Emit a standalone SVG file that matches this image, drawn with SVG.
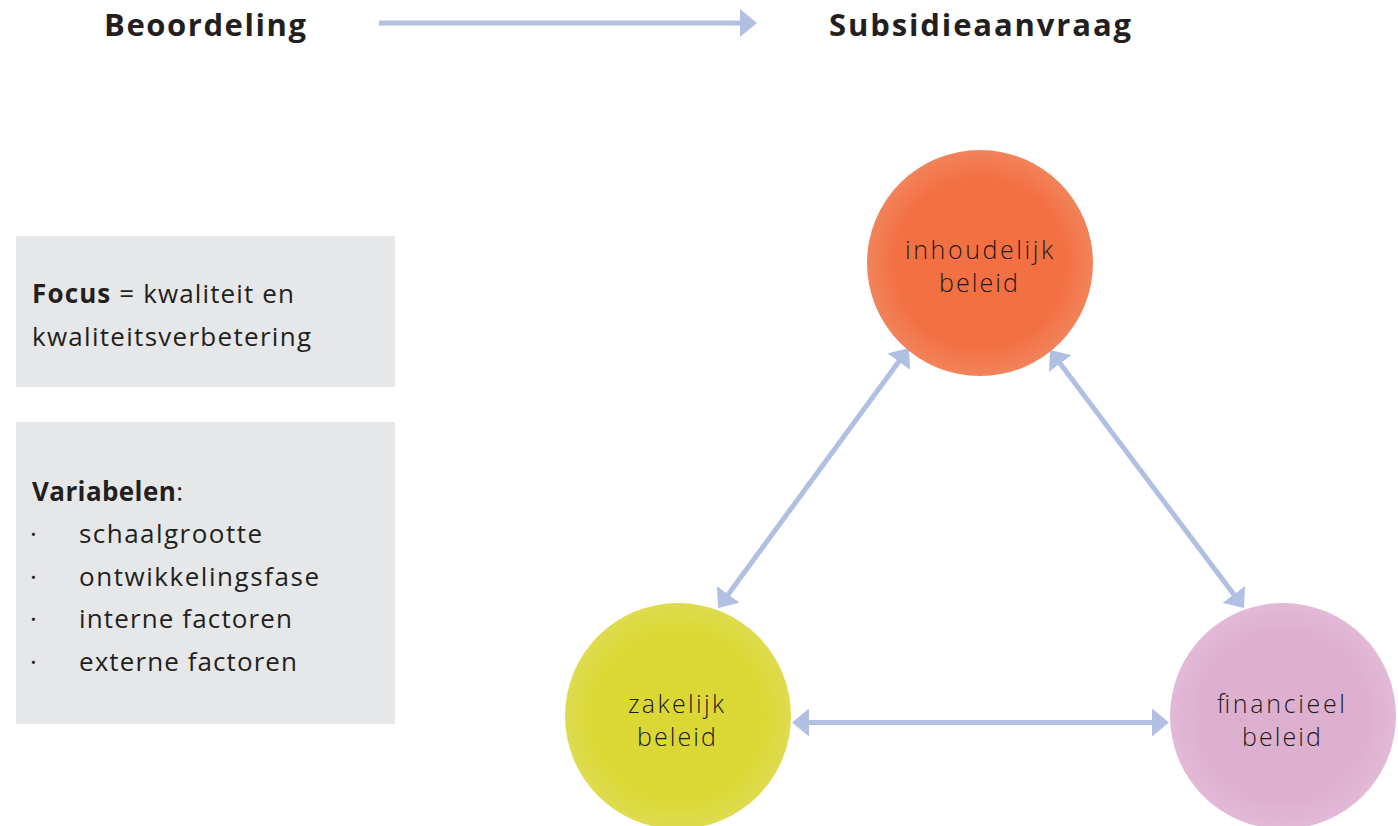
<svg xmlns="http://www.w3.org/2000/svg" width="1398" height="826" viewBox="0 0 1398 826">
<style>
.hdr{font-family:"Open Sans","Liberation Sans",sans-serif;font-weight:700;font-size:31px;fill:#231F20}
.body{font-family:"Open Sans","Liberation Sans",sans-serif;font-size:26px;fill:#231F20}
.b{font-weight:700}
.ctext{font-family:"Open Sans","Liberation Sans",sans-serif;font-weight:300;font-size:25px;fill:#1E1A1B;text-anchor:middle}
.box{fill:#E6E7E9}
.conn{stroke:#B0BFE2;stroke-width:5;fill:none}
</style>
<defs>
<marker id="ah" viewBox="0 0 17 28" refX="2" refY="14" markerWidth="17" markerHeight="28" markerUnits="userSpaceOnUse" orient="auto-start-reverse">
<path d="M0,0 L17,14 L0,28 z" fill="#B0BFE2"/>
</marker>
<radialGradient id="gO" cx="50%" cy="50%" r="50%">
<stop offset="0%" stop-color="#F37043"/><stop offset="75%" stop-color="#F37043"/><stop offset="100%" stop-color="#F2835B"/>
</radialGradient>
<radialGradient id="gY" cx="50%" cy="50%" r="50%">
<stop offset="0%" stop-color="#DBD836"/><stop offset="75%" stop-color="#DBD836"/><stop offset="100%" stop-color="#DEDB4F"/>
</radialGradient>
<radialGradient id="gP" cx="50%" cy="50%" r="50%">
<stop offset="0%" stop-color="#DEB0D0"/><stop offset="75%" stop-color="#DEB0D0"/><stop offset="100%" stop-color="#E2B9D6"/>
</radialGradient>
</defs>
<rect width="1398" height="826" fill="#FFFFFF"/>

<g id="header">
<text class="hdr" x="104" y="36" textLength="202" lengthAdjust="spacing">Beoordeling</text>
<text class="hdr" x="829" y="36" textLength="302" lengthAdjust="spacing">Subsidieaanvraag</text>
</g>

<g id="focus-box">
<rect class="box" x="16" y="236" width="379" height="151"/>
<text class="body" x="32" y="303" textLength="262" lengthAdjust="spacing"><tspan class="b">Focus</tspan> = kwaliteit en</text>
<text class="body" x="32" y="346" textLength="279" lengthAdjust="spacing">kwaliteitsverbetering</text>
</g>

<g id="variabelen-box">
<rect class="box" x="16" y="422" width="379" height="302"/>
<text class="body" x="32" y="501" textLength="151" lengthAdjust="spacing"><tspan class="b">Variabelen</tspan>:</text>
<text class="body" x="30" y="543">·</text><text class="body" x="79" y="543" textLength="183" lengthAdjust="spacing">schaalgrootte</text>
<text class="body" x="30" y="586">·</text><text class="body" x="79" y="586" textLength="240" lengthAdjust="spacing">ontwikkelingsfase</text>
<text class="body" x="30" y="628">·</text><text class="body" x="79" y="628" textLength="213" lengthAdjust="spacing">interne factoren</text>
<text class="body" x="30" y="671">·</text><text class="body" x="79" y="671" textLength="218" lengthAdjust="spacing">externe factoren</text>
</g>

<g id="connectors">
<line class="conn" x1="379" y1="23" x2="742" y2="23" stroke-width="4" marker-end="url(#ah)"/>
<line class="conn" x1="900" y1="360" x2="727" y2="596" marker-start="url(#ah)" marker-end="url(#ah)"/>
<line class="conn" x1="1059" y1="362" x2="1235" y2="596" marker-start="url(#ah)" marker-end="url(#ah)"/>
<line class="conn" x1="807" y1="722.5" x2="1154" y2="722.5" marker-start="url(#ah)" marker-end="url(#ah)"/>
</g>

<g id="inhoudelijk">
<circle cx="980" cy="263" r="113" fill="url(#gO)"/>
<text class="ctext"><tspan x="979" y="259" textLength="148" lengthAdjust="spacing">inhoudelijk</tspan><tspan x="978.5" y="292" textLength="79" lengthAdjust="spacing">beleid</tspan></text>
</g>

<g id="zakelijk">
<circle cx="678" cy="716" r="113" fill="url(#gY)"/>
<text class="ctext"><tspan x="676" y="713" textLength="96" lengthAdjust="spacing">zakelijk</tspan><tspan x="676.5" y="746" textLength="79" lengthAdjust="spacing">beleid</tspan></text>
</g>

<g id="financieel">
<circle cx="1283" cy="716" r="113" fill="url(#gP)"/>
<text class="ctext"><tspan x="1281" y="713" textLength="128" lengthAdjust="spacing">financieel</tspan><tspan x="1281.5" y="746" textLength="79" lengthAdjust="spacing">beleid</tspan></text>
</g>
</svg>
